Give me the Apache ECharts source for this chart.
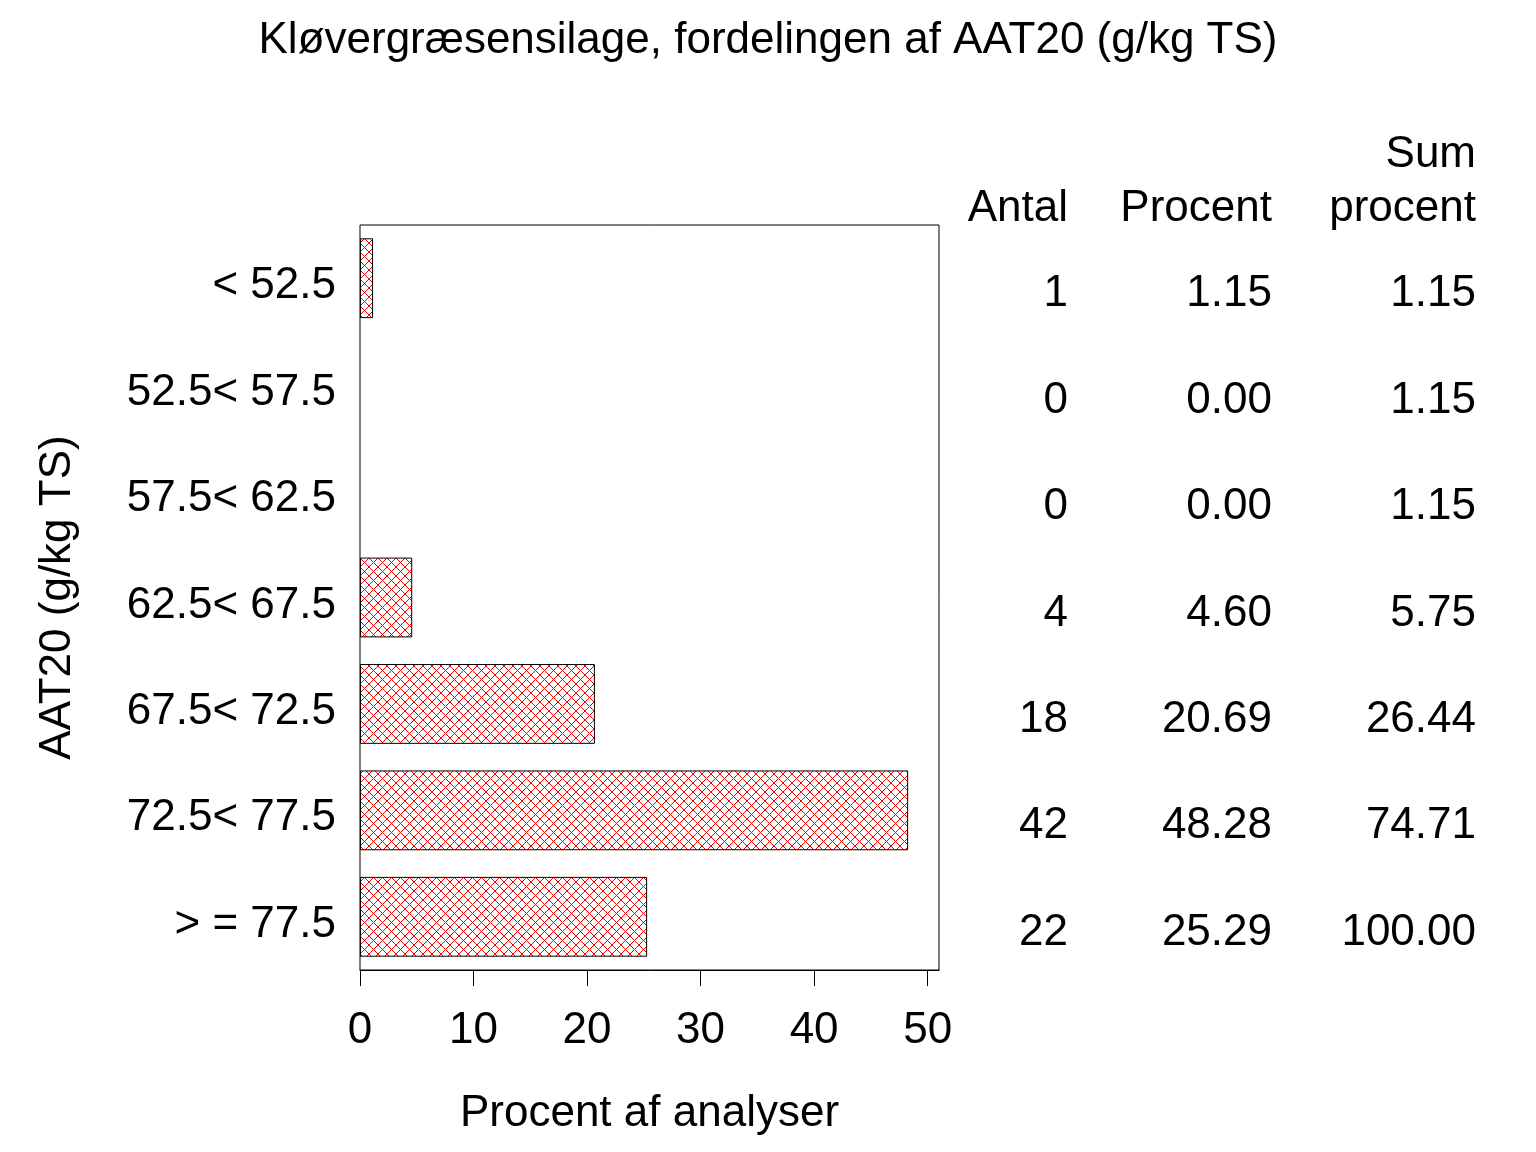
<!DOCTYPE html>
<html>
<head>
<meta charset="utf-8">
<script src="https://cdn.jsdelivr.net/npm/echarts@6/dist/echarts.min.js"></script>
<style>
html,body{margin:0;padding:0;background:#fff;}
#chart{width:1536px;height:1152px;}
</style>
</head>
<body>
<div id="chart"></div>
<script>
const categories = ['< 52.5', '52.5< 57.5', '57.5< 62.5', '62.5< 67.5', '67.5< 72.5', '72.5< 77.5', '> = 77.5'];
const percent = [1.15, 0.00, 0.00, 4.60, 20.69, 48.28, 25.29];
const counts = [1, 0, 0, 4, 18, 42, 22];
const cumPercent = [1.15, 1.15, 1.15, 5.75, 26.44, 74.71, 100.00];
const xTicks = [0, 10, 20, 30, 40, 50];
const tableHeaders = ['Antal', 'Procent', 'Sum\nprocent'];

const FONT = "'Liberation Sans', Arial, sans-serif";
const FS = 44;

// cross-hatch pattern tile
const tile = document.createElement('canvas');
tile.width = 9; tile.height = 9;
const tctx = tile.getContext('2d');
tctx.fillStyle = '#ff0000';
for (let i = 0; i < 9; i++) {
  tctx.fillRect(i, i, 1, 1);
  tctx.fillRect(8 - i, i, 1, 1);
}

const chart = echarts.init(document.getElementById('chart'), null, {renderer: 'canvas'});

const tableCols = [counts.map(v => String(v)), percent.map(v => v.toFixed(2)), cumPercent.map(v => v.toFixed(2))];
const offsets = [129, 333, 537];

const tableAxes = tableCols.map((col, k) => ({
  type: 'category',
  data: categories,
  inverse: true,
  position: 'right',
  offset: offsets[k],
  gridIndex: 0,
  axisLine: {show: false},
  axisTick: {show: false},
  axisLabel: {
    show: true, margin: 0, align: 'right', color: '#000',
    fontFamily: FONT, fontSize: FS,
    formatter: (v, i) => '{t|' + col[i] + '}',
    rich: {t: {fontFamily: FONT, fontSize: FS, color: '#000', padding: [32, 0, 0, 0]}}
  },
  name: tableHeaders[k],
  nameLocation: 'start',
  nameGap: -11,
  nameTextStyle: {
    color: '#000', fontFamily: FONT, fontSize: FS, lineHeight: 54,
    align: 'right', verticalAlign: 'bottom'
  }
}));

const barData = percent.map(v => v === 0 ? {value: v, itemStyle: {borderWidth: 0}} : v);

const option = {
  backgroundColor: '#fff',
  animation: false,
  title: {
    text: 'Kløvergræsensilage, fordelingen af AAT20 (g/kg TS)',
    left: 'center', top: 14,
    textStyle: {color: '#000', fontFamily: FONT, fontSize: FS, fontWeight: 'normal'}
  },
  grid: {
    left: 360, right: 597, top: 225, bottom: 182,
    show: true, borderColor: '#000', borderWidth: 1, backgroundColor: 'transparent',
    containLabel: false
  },
  xAxis: {
    type: 'value', min: 0, max: 51,
    axisLine: {show: true, lineStyle: {color: '#000', width: 1}},
    axisTick: {show: true, length: 16, lineStyle: {color: '#000', width: 1}, customValues: xTicks},
    axisLabel: {show: true, color: '#000', fontFamily: FONT, fontSize: FS, margin: 39, customValues: xTicks},
    splitLine: {show: false},
    name: 'Procent af analyser',
    nameLocation: 'middle',
    nameGap: 122,
    nameTextStyle: {color: '#000', fontFamily: FONT, fontSize: FS}
  },
  yAxis: [{
    type: 'category',
    data: categories,
    inverse: true,
    axisLine: {show: false},
    axisTick: {show: false},
    axisLabel: {
      color: '#000', fontFamily: FONT, fontSize: FS, margin: 24,
      formatter: v => '{c|' + v + '}',
      rich: {c: {fontFamily: FONT, fontSize: FS, color: '#000', padding: [16, 0, 0, 0]}}
    },
    splitLine: {show: false},
    name: 'AAT20 (g/kg TS)',
    nameLocation: 'middle',
    nameGap: 280,
    nameTextStyle: {color: '#000', fontFamily: FONT, fontSize: FS}
  }].concat(tableAxes),
  series: [{
    type: 'bar',
    data: barData,
    xAxisIndex: 0,
    yAxisIndex: 0,
    barCategoryGap: '25%',
    itemStyle: {
      color: {image: tile, repeat: 'repeat'},
      borderColor: '#000',
      borderWidth: 1
    },
    emphasis: {disabled: true}
  }]
};
chart.setOption(option);
</script>
</body>
</html>
